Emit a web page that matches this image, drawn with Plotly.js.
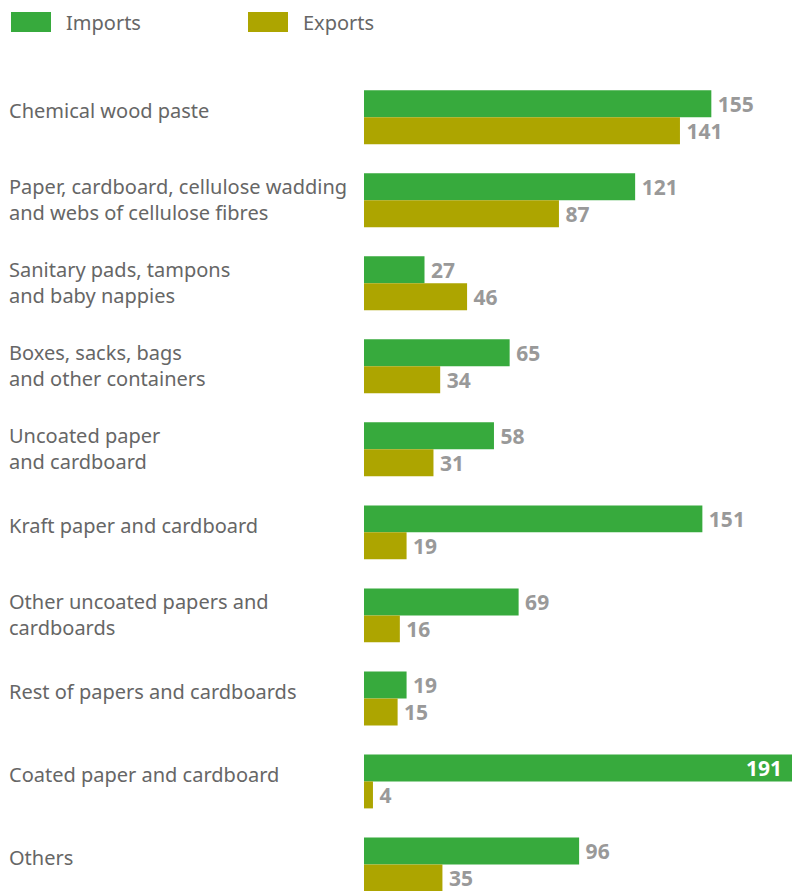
<!DOCTYPE html>
<html><head><meta charset="utf-8">
<script src="https://cdn.plot.ly/plotly-3.0.1.min.js"></script>
<style>html,body{margin:0;padding:0;background:#fff;}#chart{width:792px;height:891px;}</style>
</head><body><div id="chart"></div>
<script>
const categories = [
  "Chemical wood paste",
  "Paper, cardboard, cellulose wadding<br>and webs of cellulose fibres",
  "Sanitary pads, tampons<br>and baby nappies",
  "Boxes, sacks, bags<br>and other containers",
  "Uncoated paper<br>and cardboard",
  "Kraft paper and cardboard",
  "Other uncoated papers and<br>cardboards",
  "Rest of papers and cardboards",
  "Coated paper and cardboard",
  "Others"
];
const imports = [155, 121, 27, 65, 58, 151, 69, 19, 191, 96];
const exports = [141, 87, 46, 34, 31, 19, 16, 15, 4, 35];
const seriesNames = ["Imports", "Exports"];

const GREEN = "#37aa3d", OLIVE = "#ada500", LBL = "#999999", TXT = "#666666";
const FONT = "Noto Sans, Open Sans, sans-serif";
const maxVal = Math.max(...imports, ...exports);
const ids = categories.map((c, i) => i);
const TS = "\u2009";

function trace(name, vals, color) {
  return {
    type: "bar", orientation: "h", name: name,
    x: vals, y: ids,
    marker: {color: color},
    text: vals.map(v => v === maxVal ? v + TS + TS : TS + v),
    textposition: vals.map(v => v === maxVal ? "inside" : "outside"),
    insidetextanchor: "end",
    constraintext: "none",
    insidetextfont: {color: "#ffffff", size: 21, family: FONT, weight: "bold"},
    outsidetextfont: {color: LBL, size: 21, family: FONT, weight: "bold"},
    textfont: {size: 21, family: FONT, weight: "bold"},
    cliponaxis: false,
    hoverinfo: "skip"
  };
}

const data = [trace(seriesNames[0], imports, GREEN), trace(seriesNames[1], exports, OLIVE)];

const annotations = categories.map((c, i) => ({
  xref: "paper", yref: "y", x: 0, y: i, xanchor: "left", yanchor: "middle",
  xshift: -357, yshift: c.includes("<br>") ? 1 : 7,
  text: c, align: "left", showarrow: false,
  font: {family: FONT, size: 20, color: TXT}
}));
// legend
const legendX = [11, 248];
const colors = [GREEN, OLIVE];
const shapes = [];
seriesNames.forEach((n, k) => {
  shapes.push({type: "rect", xref: "paper", yref: "paper",
    x0: (legendX[k] - 364) / 428, x1: (legendX[k] + 40 - 364) / 428,
    y0: (891 - 32) / 831, y1: (891 - 12) / 831,
    fillcolor: colors[k], line: {width: 0}});
  annotations.push({xref: "paper", yref: "paper",
    x: (legendX[k] + 53 - 364) / 428, y: (891 - 23) / 831,
    xanchor: "left", yanchor: "middle", text: n, showarrow: false,
    font: {family: FONT, size: 20, color: TXT}});
});

const layout = {
  width: 792, height: 891,
  margin: {l: 364, r: 0, t: 60, b: 0},
  paper_bgcolor: "#fff", plot_bgcolor: "#fff",
  barmode: "group", bargap: 0.35, bargroupgap: 0,
  showlegend: false,
  xaxis: {range: [0, maxVal], visible: false, fixedrange: true},
  yaxis: {range: [9.32, -0.69], visible: false, fixedrange: true},
  annotations: annotations, shapes: shapes,
  font: {family: FONT}
};
Plotly.newPlot("chart", data, layout, {displayModeBar: false, staticPlot: true});
</script></body></html>
